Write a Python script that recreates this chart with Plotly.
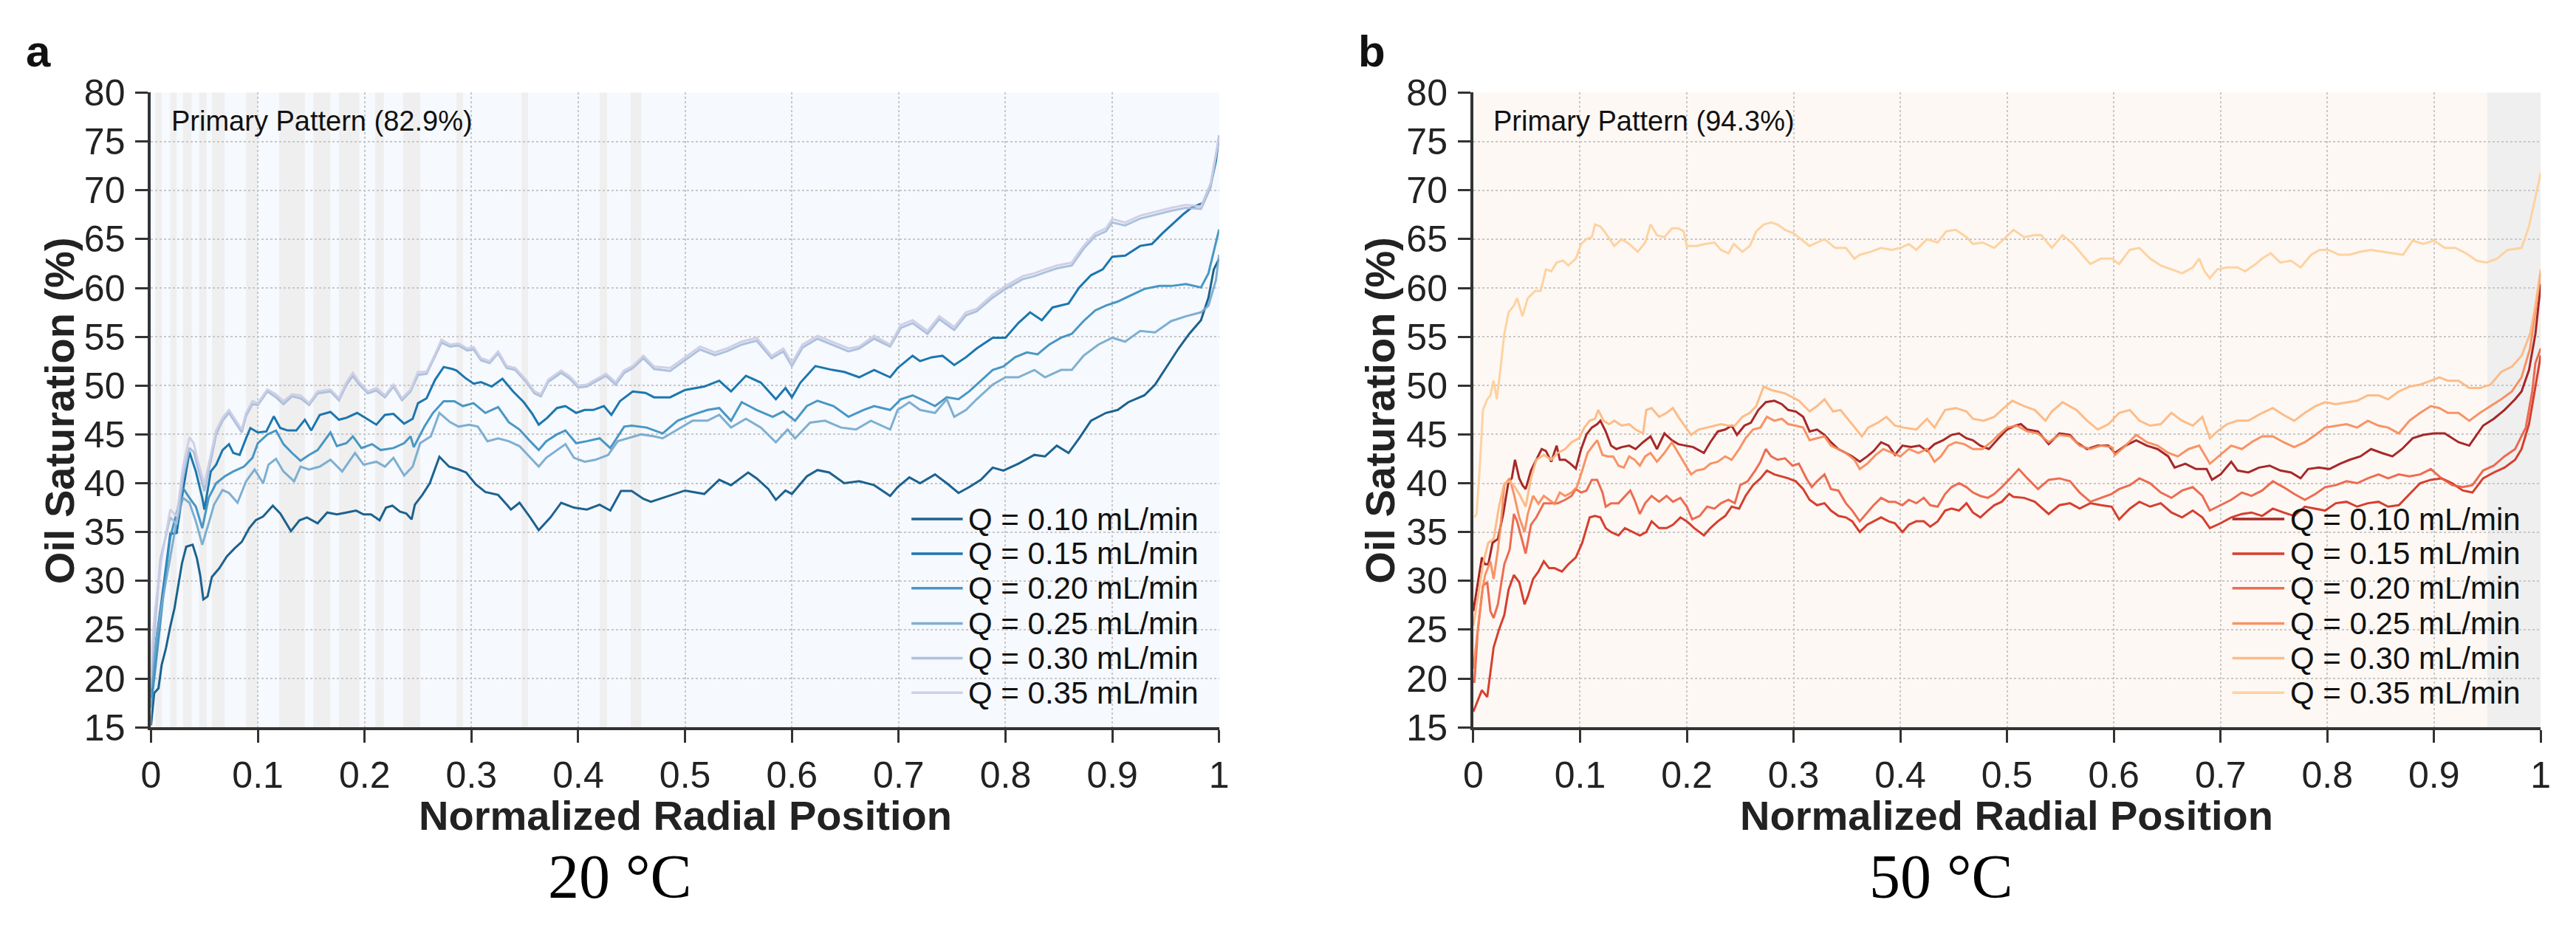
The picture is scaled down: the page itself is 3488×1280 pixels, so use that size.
import plotly.graph_objects as go

W, H = 3488, 1280

# ---------------- DATA ----------------
flow_labels = ["Q = 0.10 mL/min", "Q = 0.15 mL/min", "Q = 0.20 mL/min",
               "Q = 0.25 mL/min", "Q = 0.30 mL/min", "Q = 0.35 mL/min"]
x_ticks = [0, 0.1, 0.2, 0.3, 0.4, 0.5, 0.6, 0.7, 0.8, 0.9, 1]
x_tick_text = ["0", "0.1", "0.2", "0.3", "0.4", "0.5", "0.6", "0.7", "0.8", "0.9", "1"]
y_ticks = [15, 20, 25, 30, 35, 40, 45, 50, 55, 60, 65, 70, 75, 80]

panel_a_title = "20 °C"
panel_b_title = "50 °C"
panel_a_pattern = "Primary Pattern (82.9%)"
panel_b_pattern = "Primary Pattern (94.3%)"

# shaded (secondary-pattern) intervals of normalized radial position
a_band_start = [0.004, 0.018, 0.030, 0.045, 0.057, 0.089, 0.120, 0.152, 0.176, 0.210, 0.236, 0.286, 0.347, 0.420, 0.449]
a_band_end = [0.010, 0.024, 0.038, 0.052, 0.069, 0.100, 0.144, 0.168, 0.195, 0.218, 0.252, 0.292, 0.353, 0.427, 0.459]
b_band_start = [0.950]
b_band_end = [1.000]

# ---- 20 °C ----
A_Q010 = [(0, 15.2), (0.003, 18.5), (0.007, 19), (0.01, 21.4), (0.014, 23.1), (0.018, 25.3), (0.022, 27.2),
          (0.025, 29.2), (0.029, 31.8), (0.033, 33.5), (0.039, 33.7), (0.043, 32.3), (0.046, 30.6), (0.049, 28.1),
          (0.053, 28.4), (0.057, 30.4), (0.064, 31.3), (0.071, 32.5), (0.078, 33.3), (0.085, 34), (0.092, 35.4),
          (0.098, 36.2), (0.105, 36.6), (0.114, 37.7), (0.121, 36.9), (0.131, 35.1), (0.139, 36.2), (0.146, 36.5),
          (0.156, 35.9), (0.165, 37), (0.174, 36.8), (0.183, 37), (0.192, 37.2), (0.199, 36.8), (0.206, 36.8),
          (0.214, 36.2), (0.22, 37.5), (0.226, 37.7), (0.233, 37.1), (0.239, 36.9), (0.244, 36.3), (0.247, 37.8),
          (0.254, 38.8), (0.261, 40), (0.27, 42.7), (0.279, 41.7), (0.288, 41.4), (0.295, 41.1), (0.304, 39.9),
          (0.313, 39.1), (0.325, 38.8), (0.334, 37.7), (0.337, 37.3), (0.345, 38), (0.355, 36.5), (0.363, 35.2),
          (0.374, 36.5), (0.384, 38), (0.396, 37.5), (0.408, 37.3), (0.42, 37.8), (0.43, 37.2), (0.44, 39.2),
          (0.45, 39.2), (0.461, 38.4), (0.468, 38.1), (0.479, 38.5), (0.5, 39.25), (0.518, 38.9), (0.532, 40.35),
          (0.543, 39.8), (0.559, 41.1), (0.567, 40.5), (0.578, 39.4), (0.585, 38.3), (0.594, 39.25), (0.6, 38.9),
          (0.614, 40.7), (0.624, 41.35), (0.635, 41.1), (0.649, 40), (0.663, 40.2), (0.677, 39.8), (0.692, 38.7),
          (0.699, 39.6), (0.71, 40.6), (0.72, 40), (0.734, 40.9), (0.745, 40), (0.756, 39), (0.766, 39.6),
          (0.777, 40.35), (0.788, 41.6), (0.798, 41.3), (0.812, 42), (0.827, 42.9), (0.837, 42.75), (0.848, 43.85),
          (0.859, 43.1), (0.869, 44.6), (0.88, 46.4), (0.894, 47.2), (0.905, 47.5), (0.915, 48.3), (0.93, 49),
          (0.94, 50.1), (0.951, 51.95), (0.962, 53.8), (0.972, 55.3), (0.983, 56.7), (0.99, 59), (0.995, 61.9),
          (1.0, 63)]

A_Q015 = [(0, 18), (0.005, 24), (0.01, 28), (0.014, 31.5), (0.018, 34.8), (0.024, 34.9), (0.03, 39.3),
          (0.036, 43.2), (0.042, 41.2), (0.048, 38.5), (0.05, 37.3), (0.056, 41.2), (0.061, 41.9), (0.067, 43.4),
          (0.073, 44), (0.077, 43.1), (0.083, 42.9), (0.089, 44.6), (0.093, 45.65), (0.1, 45.2), (0.108, 45.3),
          (0.115, 46.85), (0.121, 45.65), (0.128, 45.4), (0.136, 45.4), (0.144, 46.5), (0.15, 45.4), (0.158, 47),
          (0.168, 47.3), (0.176, 46.5), (0.183, 46.7), (0.193, 47.2), (0.203, 46.5), (0.211, 46), (0.219, 47),
          (0.227, 47.1), (0.237, 46.1), (0.245, 46.6), (0.25, 48.2), (0.258, 48.7), (0.266, 50.6), (0.274, 51.9),
          (0.282, 51.7), (0.286, 51.55), (0.294, 50.8), (0.302, 50.2), (0.309, 50.35), (0.319, 49.9), (0.329, 50.7),
          (0.339, 49.4), (0.349, 48.3), (0.357, 47.1), (0.363, 46), (0.371, 46.7), (0.38, 47.7), (0.388, 47.9),
          (0.398, 47.2), (0.406, 47.5), (0.414, 47.5), (0.424, 47.9), (0.431, 47), (0.439, 48.4), (0.451, 49.4),
          (0.463, 49.25), (0.471, 48.8), (0.486, 48.8), (0.5, 49.55), (0.518, 49.9), (0.532, 50.5), (0.543, 49.4),
          (0.557, 51), (0.571, 50.3), (0.585, 48.6), (0.594, 49.75), (0.6, 48.8), (0.608, 50.3), (0.622, 52),
          (0.638, 51.6), (0.649, 51.4), (0.663, 50.85), (0.677, 51.6), (0.692, 50.85), (0.699, 51.8), (0.713, 53.05),
          (0.72, 52.5), (0.731, 52.9), (0.741, 53.05), (0.752, 52.1), (0.763, 52.9), (0.773, 53.8), (0.788, 54.9),
          (0.8, 54.9), (0.812, 56.4), (0.823, 57.5), (0.834, 56.7), (0.844, 58), (0.859, 58.4), (0.869, 60.05),
          (0.88, 61.3), (0.891, 61.9), (0.9, 63.2), (0.912, 63.3), (0.926, 64.3), (0.937, 64.5), (0.947, 65.6),
          (0.958, 66.7), (0.967, 67.6), (0.975, 68.3), (0.985, 68.7), (0.992, 70.5), (0.997, 73), (1.0, 75.6)]

A_Q020 = [(0, 17), (0.005, 22), (0.01, 27), (0.014, 31), (0.018, 34.45), (0.024, 36.9), (0.03, 39.5),
          (0.036, 38.5), (0.042, 37.6), (0.048, 35.4), (0.054, 38.5), (0.061, 40), (0.069, 40.7), (0.077, 41.2),
          (0.087, 41.7), (0.095, 42.6), (0.1, 44.1), (0.109, 45), (0.117, 45.4), (0.124, 44), (0.132, 43.1),
          (0.14, 42.3), (0.148, 42.9), (0.156, 43.4), (0.168, 45.2), (0.174, 43.8), (0.183, 44.1), (0.189, 44.8),
          (0.197, 43.6), (0.207, 44), (0.215, 43.4), (0.227, 43.6), (0.237, 44.1), (0.243, 44.8), (0.246, 43.7),
          (0.256, 45.8), (0.264, 47.2), (0.274, 48.4), (0.284, 48.4), (0.292, 47.9), (0.302, 48.2), (0.313, 47.2),
          (0.325, 47.8), (0.335, 46.25), (0.345, 45.5), (0.355, 44.3), (0.363, 43.4), (0.37, 44.3), (0.38, 45),
          (0.388, 45.4), (0.398, 44.1), (0.408, 44.3), (0.42, 44.6), (0.43, 43.6), (0.443, 45.8), (0.45, 45.9),
          (0.464, 45.7), (0.479, 45.1), (0.493, 46.4), (0.507, 47), (0.521, 47.5), (0.532, 47.7), (0.543, 46.4),
          (0.553, 48.3), (0.567, 47.5), (0.582, 46.8), (0.592, 47.35), (0.603, 46.4), (0.614, 47.9), (0.624, 48.45),
          (0.639, 47.9), (0.653, 46.8), (0.667, 47.5), (0.677, 47.9), (0.692, 47.5), (0.702, 48.6), (0.713, 49),
          (0.724, 48.45), (0.734, 47.9), (0.745, 48.8), (0.756, 48.6), (0.766, 49.4), (0.777, 50.5), (0.788, 51.6),
          (0.798, 51.95), (0.809, 52.9), (0.82, 53.4), (0.83, 53.2), (0.841, 54.2), (0.852, 54.9), (0.862, 55.3),
          (0.873, 56.6), (0.884, 57.7), (0.894, 58.2), (0.905, 58.6), (0.915, 59.1), (0.93, 59.9), (0.944, 60.2),
          (0.955, 60.2), (0.969, 60.4), (0.983, 60.05), (0.99, 61.5), (1.0, 66)]

A_Q025 = [(0, 19), (0.005, 24), (0.01, 27.5), (0.014, 30), (0.018, 32.3), (0.024, 36.1), (0.03, 38.5),
          (0.036, 38), (0.042, 36.1), (0.048, 33.7), (0.054, 35.9), (0.059, 37.8), (0.067, 39.3), (0.073, 39),
          (0.081, 38), (0.089, 40.2), (0.097, 41.4), (0.105, 40), (0.11, 41.9), (0.117, 42.5), (0.124, 41.2),
          (0.134, 40.2), (0.14, 41.7), (0.148, 41.4), (0.158, 41.7), (0.168, 42.4), (0.179, 41.2), (0.191, 43.1),
          (0.199, 41.9), (0.211, 42.2), (0.219, 41.7), (0.227, 42.6), (0.237, 40.8), (0.245, 41.7), (0.252, 44.1),
          (0.262, 44.8), (0.27, 47.2), (0.28, 46.25), (0.288, 45.8), (0.298, 46), (0.306, 45.8), (0.315, 44.3),
          (0.325, 44.6), (0.335, 44.3), (0.345, 43.8), (0.355, 42.6), (0.363, 41.7), (0.37, 42.6), (0.38, 43.4),
          (0.388, 44), (0.396, 42.6), (0.406, 42.2), (0.416, 42.4), (0.428, 42.9), (0.437, 44.3), (0.447, 44.6),
          (0.459, 45), (0.471, 44.8), (0.479, 44.6), (0.493, 45.5), (0.507, 46.4), (0.521, 46.4), (0.532, 47),
          (0.543, 45.7), (0.557, 46.6), (0.571, 45.7), (0.585, 44.2), (0.596, 45.5), (0.603, 44.6), (0.617, 46.2),
          (0.631, 46.4), (0.646, 45.7), (0.66, 45.5), (0.674, 46.4), (0.692, 45.5), (0.699, 47.5), (0.71, 48.3),
          (0.72, 47.5), (0.734, 47.2), (0.745, 48.6), (0.752, 46.8), (0.763, 47.5), (0.773, 48.6), (0.788, 50.1),
          (0.8, 50.85), (0.812, 50.85), (0.827, 51.6), (0.837, 50.85), (0.852, 51.6), (0.862, 51.6), (0.873, 53.05),
          (0.887, 54.2), (0.9, 54.9), (0.912, 54.5), (0.926, 55.6), (0.94, 55.45), (0.955, 56.6), (0.969, 57.1),
          (0.983, 57.5), (0.99, 58.2), (0.997, 60.8), (1.0, 63.4)]

A_Q030 = [(0, 20), (0.004, 26), (0.009, 32.3), (0.018, 36.5), (0.024, 35.8), (0.03, 40.6), (0.036, 43.6),
          (0.04, 43.2), (0.044, 41.5), (0.05, 39.2), (0.056, 42.3), (0.061, 45), (0.067, 46.4), (0.073, 47.2),
          (0.079, 46.2), (0.085, 45.2), (0.089, 46.9), (0.095, 48.1), (0.1, 48), (0.109, 49.4), (0.117, 48.8),
          (0.124, 48.1), (0.132, 48.9), (0.14, 48.7), (0.148, 48), (0.156, 49.2), (0.168, 49.4), (0.176, 48.5),
          (0.183, 50.1), (0.189, 51), (0.195, 50.1), (0.203, 49.2), (0.211, 49.5), (0.219, 48.8), (0.227, 49.9),
          (0.235, 48.5), (0.243, 49.4), (0.25, 51.1), (0.258, 51.2), (0.266, 53), (0.272, 54.4), (0.28, 54),
          (0.288, 54.1), (0.296, 53.6), (0.302, 53.7), (0.309, 52.6), (0.317, 52.3), (0.325, 53.3), (0.333, 51.8),
          (0.341, 51.6), (0.351, 50.4), (0.359, 49.2), (0.365, 48.9), (0.372, 50.4), (0.384, 51.3), (0.392, 50.7),
          (0.4, 49.8), (0.408, 49.9), (0.416, 50.4), (0.426, 51), (0.435, 50.1), (0.443, 51.3), (0.451, 51.8),
          (0.461, 52.8), (0.471, 51.7), (0.486, 51.5), (0.5, 52.6), (0.514, 53.7), (0.528, 53.1), (0.539, 53.5),
          (0.553, 54.2), (0.567, 54.6), (0.581, 52.8), (0.592, 53.5), (0.6, 52), (0.61, 53.9), (0.624, 54.8),
          (0.638, 54.2), (0.653, 53.5), (0.663, 53.8), (0.677, 54.8), (0.692, 54), (0.702, 55.9), (0.713, 56.4),
          (0.727, 55.3), (0.738, 56.8), (0.752, 55.7), (0.763, 57.2), (0.773, 57.6), (0.788, 59), (0.8, 59.9),
          (0.816, 60.9), (0.827, 61.2), (0.837, 61.6), (0.848, 62), (0.862, 62.3), (0.873, 64), (0.884, 65.3),
          (0.894, 65.8), (0.9, 66.7), (0.912, 66.4), (0.926, 67.1), (0.94, 67.5), (0.955, 67.9), (0.969, 68.2),
          (0.983, 68.1), (0.992, 70.3), (1.0, 75.4)]

A_Q035 = [(0, 22), (0.004, 27.2), (0.01, 32.3), (0.018, 37.3), (0.024, 36.6), (0.03, 41.7), (0.036, 44.7),
          (0.04, 44.1), (0.044, 42.2), (0.05, 39.9), (0.056, 42.9), (0.061, 45.4), (0.067, 46.7), (0.073, 47.5),
          (0.079, 46.5), (0.085, 45.5), (0.089, 47.2), (0.095, 48.4), (0.1, 48.2), (0.109, 49.6), (0.117, 49.1),
          (0.124, 48.4), (0.132, 49.1), (0.14, 49), (0.148, 48.2), (0.156, 49.4), (0.168, 49.6), (0.176, 48.7),
          (0.183, 50.35), (0.189, 51.3), (0.195, 50.35), (0.203, 49.4), (0.211, 49.75), (0.219, 49), (0.227, 50.1),
          (0.235, 48.7), (0.243, 49.6), (0.25, 51.4), (0.258, 51.4), (0.266, 53.2), (0.272, 54.7), (0.28, 54.2),
          (0.288, 54.3), (0.296, 53.8), (0.302, 53.95), (0.309, 52.8), (0.317, 52.5), (0.325, 53.5), (0.333, 52),
          (0.341, 51.8), (0.351, 50.6), (0.359, 49.4), (0.365, 49.1), (0.372, 50.6), (0.384, 51.55), (0.392, 50.95),
          (0.4, 50), (0.408, 50.1), (0.416, 50.6), (0.426, 51.2), (0.435, 50.35), (0.443, 51.55), (0.451, 52),
          (0.461, 53.05), (0.471, 51.95), (0.486, 51.8), (0.5, 52.9), (0.514, 54), (0.528, 53.4), (0.539, 53.8),
          (0.553, 54.5), (0.567, 54.9), (0.581, 53.05), (0.592, 53.8), (0.6, 52.3), (0.61, 54.2), (0.624, 55.1),
          (0.638, 54.5), (0.653, 53.8), (0.663, 54), (0.677, 55.1), (0.692, 54.2), (0.702, 56.2), (0.713, 56.7),
          (0.727, 55.6), (0.738, 57.1), (0.752, 56), (0.763, 57.5), (0.773, 57.85), (0.788, 59.3), (0.8, 60.2),
          (0.816, 61.2), (0.827, 61.5), (0.837, 61.9), (0.848, 62.3), (0.862, 62.6), (0.873, 64.3), (0.884, 65.6),
          (0.894, 66.1), (0.9, 67.05), (0.912, 66.7), (0.926, 67.4), (0.94, 67.8), (0.955, 68.2), (0.969, 68.5),
          (0.983, 68.35), (0.992, 70.7), (1.0, 75.6)]

# ---- 50 °C ----
B_Q010 = [(0, 26.9), (0.004, 29.5), (0.008, 32.4), (0.011, 31.7), (0.014, 31.7), (0.018, 33.9), (0.023, 34.3),
          (0.028, 36.85), (0.033, 40.2), (0.036, 40.5), (0.039, 42.4), (0.043, 40.5), (0.046, 39.8), (0.049, 39.4),
          (0.054, 41.3), (0.059, 42.4), (0.064, 43.5), (0.068, 43.3), (0.073, 42.2), (0.078, 43.85), (0.081, 42.4),
          (0.086, 42.4), (0.091, 42), (0.096, 41.5), (0.101, 43.5), (0.106, 45), (0.111, 45.7), (0.116, 46.05),
          (0.119, 46.4), (0.124, 45.3), (0.129, 43.85), (0.134, 43.5), (0.139, 43.7), (0.146, 43.85), (0.152, 43.5),
          (0.159, 44.2), (0.166, 44.8), (0.172, 43.5), (0.179, 45.1), (0.186, 44.4), (0.192, 44), (0.199, 43.85),
          (0.206, 43.7), (0.216, 43.1), (0.222, 44.2), (0.229, 45.3), (0.236, 45.5), (0.242, 45.9), (0.247, 44.95),
          (0.254, 45.9), (0.26, 46.2), (0.267, 47.5), (0.274, 48.3), (0.282, 48.45), (0.289, 48.1), (0.295, 47.5),
          (0.302, 47.35), (0.309, 46.8), (0.315, 45.3), (0.322, 45.5), (0.329, 44.95), (0.335, 44.2), (0.342, 43.5),
          (0.349, 43.1), (0.355, 42.75), (0.362, 42.2), (0.369, 42.75), (0.375, 43.3), (0.382, 44.2), (0.389, 43.85),
          (0.395, 42.9), (0.402, 43.85), (0.41, 43.7), (0.418, 43.85), (0.425, 43.3), (0.432, 44), (0.44, 44.4),
          (0.448, 44.95), (0.455, 45.1), (0.462, 44.6), (0.468, 44.4), (0.475, 43.85), (0.483, 43.5), (0.492, 44.6),
          (0.5, 45.5), (0.508, 45.9), (0.513, 46.05), (0.519, 45.5), (0.529, 45.3), (0.539, 44), (0.549, 45.1),
          (0.559, 44.95), (0.565, 44.2), (0.575, 43.5), (0.585, 43.85), (0.595, 43.85), (0.601, 43.1), (0.611, 43.85),
          (0.621, 44.4), (0.631, 43.85), (0.641, 43.5), (0.651, 42.75), (0.657, 41.6), (0.667, 42), (0.677, 41.45),
          (0.687, 41.45), (0.692, 40.35), (0.7, 40.9), (0.71, 42.2), (0.716, 41.3), (0.726, 41.1), (0.736, 41.6),
          (0.746, 41.8), (0.756, 41.3), (0.766, 41.1), (0.775, 40.5), (0.782, 41.45), (0.792, 41.6), (0.802, 41.45),
          (0.812, 42), (0.821, 42.4), (0.831, 42.75), (0.841, 43.5), (0.851, 43.1), (0.861, 42.75), (0.87, 43.5),
          (0.88, 44.6), (0.89, 44.95), (0.9, 45.1), (0.91, 45.1), (0.917, 44.6), (0.923, 44.2), (0.933, 43.85),
          (0.94, 44.95), (0.946, 45.9), (0.956, 46.6), (0.966, 47.5), (0.976, 48.6), (0.982, 49.4), (0.989, 51.6),
          (0.995, 55.3), (1.0, 60.4)]

B_Q015 = [(0, 16.6), (0.004, 17.7), (0.008, 18.8), (0.013, 18.1), (0.016, 20.65), (0.019, 23.2), (0.024, 25),
          (0.029, 26.5), (0.033, 29.1), (0.038, 30.6), (0.043, 29.85), (0.048, 27.6), (0.051, 28.4), (0.056, 30.2),
          (0.061, 30.95), (0.066, 32), (0.071, 31.3), (0.076, 31.3), (0.083, 30.95), (0.089, 31.7), (0.096, 32.4),
          (0.102, 33.9), (0.109, 36.5), (0.114, 36.65), (0.119, 36.5), (0.124, 35.4), (0.129, 35), (0.136, 34.65),
          (0.142, 35.4), (0.149, 35), (0.156, 34.65), (0.162, 35), (0.167, 36.1), (0.174, 35.4), (0.181, 35.4),
          (0.187, 35.75), (0.194, 36.5), (0.2, 36.1), (0.207, 35.4), (0.216, 34.65), (0.222, 35.4), (0.229, 36.1),
          (0.236, 36.65), (0.242, 37.6), (0.249, 37.4), (0.255, 38.7), (0.262, 39.8), (0.269, 40.5), (0.275, 41.3),
          (0.282, 40.9), (0.289, 40.7), (0.295, 40.5), (0.302, 40.2), (0.309, 39.4), (0.315, 38.3), (0.322, 37.75),
          (0.329, 37.95), (0.335, 37.2), (0.342, 36.65), (0.349, 36.5), (0.355, 36.1), (0.362, 35), (0.369, 35.75),
          (0.375, 36.1), (0.382, 36.5), (0.389, 36.1), (0.395, 35.9), (0.402, 35), (0.408, 35.75), (0.415, 36.1),
          (0.422, 36.1), (0.428, 35.55), (0.435, 36.1), (0.442, 37.2), (0.448, 37.4), (0.455, 37.2), (0.462, 37.95),
          (0.468, 37), (0.475, 36.5), (0.482, 37.2), (0.488, 37.75), (0.495, 38.1), (0.502, 38.9), (0.506, 38.6),
          (0.516, 38.5), (0.526, 38.1), (0.539, 36.85), (0.549, 37.75), (0.559, 37.95), (0.568, 37.4), (0.578, 37.95),
          (0.588, 37.75), (0.598, 37.6), (0.605, 36.3), (0.615, 37.4), (0.624, 38.1), (0.634, 37.6), (0.644, 37.95),
          (0.654, 37), (0.664, 36.5), (0.674, 37.2), (0.683, 36.5), (0.69, 35.4), (0.7, 35.9), (0.71, 36.5),
          (0.72, 36.85), (0.729, 37), (0.739, 36.65), (0.749, 37.4), (0.759, 37), (0.769, 36.65), (0.779, 37.6),
          (0.789, 37.4), (0.798, 37.2), (0.808, 37.95), (0.818, 38.1), (0.828, 37.6), (0.838, 37.95), (0.848, 38.1),
          (0.857, 37.6), (0.867, 37.75), (0.877, 38.9), (0.887, 40), (0.897, 40.35), (0.907, 40.5), (0.917, 40),
          (0.927, 39.25), (0.936, 39.05), (0.946, 40.5), (0.956, 41.1), (0.966, 41.6), (0.976, 42.4), (0.982, 43.5),
          (0.989, 46.05), (0.994, 49.4), (1.0, 53.1)]

B_Q020 = [(0.001, 19.55), (0.004, 24.7), (0.009, 29.5), (0.013, 29.85), (0.016, 26.9), (0.019, 26.2), (0.023, 27.6),
          (0.029, 31.7), (0.034, 33.2), (0.038, 36.85), (0.041, 36.1), (0.046, 33.9), (0.049, 32.8), (0.054, 35.75),
          (0.059, 36.5), (0.066, 37.95), (0.072, 37.95), (0.079, 37.95), (0.086, 38.3), (0.092, 38.7), (0.096, 39.4),
          (0.101, 39.05), (0.106, 39.25), (0.111, 40.35), (0.116, 40.35), (0.121, 39.05), (0.124, 37.6), (0.129, 37.95),
          (0.136, 37.95), (0.142, 38.7), (0.147, 39.25), (0.151, 38.3), (0.156, 36.85), (0.161, 37.95), (0.167, 38.7),
          (0.174, 38.1), (0.181, 38.7), (0.187, 38.1), (0.194, 38.5), (0.2, 37.6), (0.205, 36.3), (0.212, 36.65),
          (0.219, 37.6), (0.226, 37.4), (0.232, 37.95), (0.239, 38.3), (0.245, 37.95), (0.25, 39.8), (0.257, 40.2),
          (0.264, 41.3), (0.269, 42.2), (0.274, 43.5), (0.279, 42.75), (0.285, 42.4), (0.292, 42.55), (0.299, 41.8),
          (0.305, 42), (0.312, 40.5), (0.317, 39.6), (0.322, 40.2), (0.329, 40.9), (0.335, 39.4), (0.342, 39.25),
          (0.349, 37.95), (0.355, 37.2), (0.362, 36.1), (0.369, 37), (0.375, 37.75), (0.382, 38.5), (0.389, 38.1),
          (0.395, 38.1), (0.402, 37.75), (0.408, 38.3), (0.415, 37.95), (0.422, 38.5), (0.428, 37.75), (0.435, 37.6),
          (0.442, 38.9), (0.448, 39.6), (0.455, 40), (0.462, 39.6), (0.468, 39.05), (0.475, 38.7), (0.482, 38.5),
          (0.488, 38.9), (0.495, 39.6), (0.503, 40.5), (0.511, 41.45), (0.519, 40.5), (0.529, 39.4), (0.539, 40.35),
          (0.549, 40.5), (0.559, 40.2), (0.568, 39.05), (0.578, 38.1), (0.588, 38.5), (0.598, 38.9), (0.605, 39.4),
          (0.615, 39.8), (0.624, 40.5), (0.634, 40), (0.644, 39.05), (0.654, 38.5), (0.664, 39.25), (0.674, 39.6),
          (0.683, 38.7), (0.69, 37.2), (0.7, 37.75), (0.71, 38.3), (0.72, 39.05), (0.729, 38.7), (0.739, 39.25),
          (0.749, 40.2), (0.759, 39.6), (0.769, 38.9), (0.779, 38.3), (0.789, 38.9), (0.798, 39.6), (0.808, 39.8),
          (0.818, 40.2), (0.828, 40), (0.838, 40.5), (0.848, 40.9), (0.857, 40.5), (0.867, 40.9), (0.877, 40.7),
          (0.887, 40.9), (0.897, 41.45), (0.907, 40.5), (0.917, 39.8), (0.927, 39.6), (0.936, 39.8), (0.946, 41.3),
          (0.956, 41.8), (0.966, 42.75), (0.976, 43.5), (0.986, 45.7), (0.992, 49.4), (0.995, 52.3), (1.0, 53.8)]

B_Q025 = [(0, 21), (0.004, 25), (0.008, 28.7), (0.011, 30.6), (0.016, 32), (0.019, 30.2), (0.023, 33.2),
          (0.026, 36.1), (0.029, 39.8), (0.034, 40.5), (0.038, 38.9), (0.043, 36.5), (0.048, 35), (0.051, 36.85),
          (0.056, 38.7), (0.061, 37.9), (0.066, 38.7), (0.071, 38.3), (0.076, 37.9), (0.081, 39.05), (0.086, 38.7),
          (0.092, 39.05), (0.097, 39.6), (0.102, 41.3), (0.107, 43.1), (0.112, 43.85), (0.116, 44.4), (0.121, 42.9),
          (0.126, 42.75), (0.131, 42.75), (0.136, 41.8), (0.141, 41.6), (0.146, 42.75), (0.151, 42.4), (0.156, 41.8),
          (0.161, 42.75), (0.166, 43.1), (0.172, 42.2), (0.179, 43.1), (0.186, 44.2), (0.192, 43.1), (0.199, 41.8),
          (0.204, 40.9), (0.209, 41.3), (0.216, 41.45), (0.222, 42), (0.229, 42.2), (0.236, 42.75), (0.242, 42.4),
          (0.249, 43.5), (0.255, 44.6), (0.262, 45.5), (0.269, 45.7), (0.275, 46.8), (0.282, 46.4), (0.289, 46.6),
          (0.295, 46.05), (0.302, 45.9), (0.309, 45.7), (0.315, 44.4), (0.322, 44.6), (0.329, 44.8), (0.335, 43.85),
          (0.342, 43.5), (0.349, 43.1), (0.357, 42.4), (0.362, 41.45), (0.369, 42), (0.377, 42.9), (0.384, 43.5),
          (0.392, 43.1), (0.4, 42.75), (0.408, 43.5), (0.417, 43.1), (0.425, 43.5), (0.432, 42.2), (0.438, 42.75),
          (0.445, 43.85), (0.452, 44.2), (0.46, 44), (0.468, 43.5), (0.477, 43.5), (0.485, 44.2), (0.492, 44.95),
          (0.5, 45.7), (0.509, 45.9), (0.519, 45.3), (0.529, 45.1), (0.539, 44.2), (0.549, 44.95), (0.559, 44.8),
          (0.568, 43.85), (0.578, 43.5), (0.588, 43.85), (0.598, 43.7), (0.601, 42.9), (0.611, 43.85), (0.621, 44.95),
          (0.631, 44.2), (0.641, 43.85), (0.651, 43.1), (0.66, 42.75), (0.67, 43.5), (0.68, 43.85), (0.69, 42),
          (0.7, 42.9), (0.71, 43.85), (0.72, 43.5), (0.729, 44.2), (0.739, 44.8), (0.749, 44.8), (0.759, 44.2),
          (0.769, 43.7), (0.779, 44.2), (0.789, 44.95), (0.798, 45.7), (0.808, 45.9), (0.818, 46.05), (0.828, 45.7),
          (0.838, 46.4), (0.848, 45.9), (0.857, 45.7), (0.867, 45.1), (0.877, 46.4), (0.887, 47.2), (0.897, 47.9),
          (0.905, 47.7), (0.913, 47.2), (0.923, 47.2), (0.933, 46.4), (0.943, 47.2), (0.953, 47.9), (0.963, 48.6),
          (0.973, 49.4), (0.982, 50.85), (0.99, 53.8), (0.995, 57.5), (1.0, 61.5)]

B_Q030 = [(0, 25.4), (0.009, 31.7), (0.014, 33.9), (0.019, 34.3), (0.024, 37.6), (0.029, 40), (0.034, 40.2),
          (0.039, 39.6), (0.044, 38.7), (0.049, 37.6), (0.054, 40.5), (0.059, 42.4), (0.066, 42.9), (0.073, 42.4),
          (0.079, 43.1), (0.086, 43.5), (0.092, 44.2), (0.099, 44.6), (0.104, 45.7), (0.109, 46.4), (0.114, 46.6),
          (0.117, 47.5), (0.122, 46.4), (0.127, 46.05), (0.132, 46.4), (0.139, 45.9), (0.146, 46.05), (0.152, 45.5),
          (0.159, 45.1), (0.162, 47.5), (0.167, 47.7), (0.174, 46.8), (0.181, 47.2), (0.187, 47.7), (0.192, 46.8),
          (0.199, 45.7), (0.204, 44.95), (0.211, 45.5), (0.219, 45.7), (0.226, 45.9), (0.232, 46.05), (0.239, 45.9),
          (0.245, 45.9), (0.252, 46.8), (0.259, 47.2), (0.265, 47.9), (0.272, 49.9), (0.279, 49.55), (0.285, 49.4),
          (0.292, 49.2), (0.299, 48.8), (0.305, 48.45), (0.315, 47.35), (0.322, 47.9), (0.329, 48.6), (0.337, 47.35),
          (0.344, 47.5), (0.352, 46.4), (0.359, 45.5), (0.364, 44.8), (0.37, 45.7), (0.379, 46.2), (0.387, 46.8),
          (0.395, 45.9), (0.403, 45.7), (0.415, 45.5), (0.425, 46.6), (0.432, 45.7), (0.442, 47.5), (0.452, 47.7),
          (0.462, 47.35), (0.468, 46.6), (0.478, 46.4), (0.488, 46.8), (0.497, 47.7), (0.505, 48.45), (0.516, 47.9),
          (0.526, 47.5), (0.536, 46.4), (0.542, 47.35), (0.552, 48.3), (0.565, 47.5), (0.575, 46.4), (0.585, 45.5),
          (0.595, 46.05), (0.605, 47.2), (0.615, 47.5), (0.624, 46.4), (0.634, 45.9), (0.644, 46.05), (0.654, 47.2),
          (0.664, 46.4), (0.674, 45.9), (0.683, 46.8), (0.69, 44.6), (0.697, 45.3), (0.706, 46.05), (0.716, 46.4),
          (0.726, 46.4), (0.739, 47.2), (0.749, 47.7), (0.759, 47), (0.769, 46.4), (0.779, 47.2), (0.789, 47.9),
          (0.798, 48.3), (0.808, 48.1), (0.818, 48.3), (0.828, 48.45), (0.838, 49), (0.848, 49), (0.857, 48.6),
          (0.867, 49.4), (0.877, 49.9), (0.887, 50.1), (0.897, 50.5), (0.905, 50.85), (0.913, 50.5), (0.923, 50.5),
          (0.933, 49.75), (0.943, 49.75), (0.953, 50.1), (0.963, 51.4), (0.973, 51.95), (0.982, 53.05), (0.99, 55.3),
          (0.995, 58.2), (1.0, 61.9)]

B_Q035 = [(0.001, 36.5), (0.003, 36.85), (0.006, 41.6), (0.009, 47.5), (0.013, 48.6), (0.016, 49), (0.019, 50.5),
          (0.022, 48.6), (0.026, 52.3), (0.029, 55.3), (0.033, 57.5), (0.038, 58.2), (0.041, 58.95), (0.046, 57.1),
          (0.051, 58.95), (0.058, 59.7), (0.063, 59.7), (0.068, 61.9), (0.073, 61.7), (0.078, 62.6), (0.084, 62.8),
          (0.089, 62.3), (0.096, 63), (0.101, 64.5), (0.106, 65), (0.111, 65.2), (0.114, 66.5), (0.119, 66.3),
          (0.124, 65.6), (0.132, 64.3), (0.139, 65), (0.146, 64.5), (0.154, 63.7), (0.161, 64.65), (0.166, 66.5),
          (0.172, 65.4), (0.179, 65.2), (0.186, 66.1), (0.192, 66.1), (0.197, 65.8), (0.2, 64.3), (0.209, 64.3),
          (0.217, 64.5), (0.226, 64.65), (0.232, 63.9), (0.239, 63.55), (0.244, 64.5), (0.252, 63.7), (0.259, 64.3),
          (0.265, 65.8), (0.272, 66.5), (0.279, 66.7), (0.285, 66.5), (0.292, 65.95), (0.3, 65.6), (0.309, 64.8),
          (0.315, 64.3), (0.322, 64.65), (0.329, 65), (0.339, 64.1), (0.349, 64.1), (0.357, 63), (0.362, 63.4),
          (0.372, 63.7), (0.382, 64.1), (0.392, 63.9), (0.4, 64.1), (0.408, 64.5), (0.415, 63.9), (0.425, 65),
          (0.435, 64.65), (0.443, 65.8), (0.452, 65.95), (0.462, 65.2), (0.468, 64.5), (0.477, 64.65), (0.488, 64.1),
          (0.498, 65.1), (0.506, 65.95), (0.516, 65.2), (0.526, 65.4), (0.532, 65.4), (0.542, 64.1), (0.552, 65.4),
          (0.562, 64.5), (0.572, 63.2), (0.578, 62.45), (0.588, 63), (0.598, 63), (0.605, 62.45), (0.615, 63.9),
          (0.624, 64.1), (0.634, 63), (0.644, 62.3), (0.654, 61.9), (0.664, 61.5), (0.674, 62.1), (0.68, 63),
          (0.685, 61.7), (0.69, 61), (0.697, 61.9), (0.706, 62.1), (0.716, 62.1), (0.723, 61.7), (0.733, 62.45),
          (0.739, 63), (0.747, 63.55), (0.756, 62.6), (0.766, 62.8), (0.775, 62.1), (0.785, 63.4), (0.793, 63.9),
          (0.801, 63.9), (0.811, 63.4), (0.821, 63.4), (0.831, 63.7), (0.841, 63.9), (0.851, 63.7), (0.861, 63.55),
          (0.871, 63.4), (0.88, 64.85), (0.89, 64.5), (0.9, 64.85), (0.91, 64.1), (0.92, 64.1), (0.93, 63.55),
          (0.94, 62.8), (0.949, 62.6), (0.959, 63), (0.969, 63.9), (0.982, 64.1), (0.989, 66.3), (0.995, 69.3),
          (1.0, 71.8)]

A_SERIES = [A_Q010, A_Q015, A_Q020, A_Q025, A_Q030, A_Q035]
B_SERIES = [B_Q010, B_Q015, B_Q020, B_Q025, B_Q030, B_Q035]

# ---------------- STYLE ----------------
A_COLORS = ["#0b5687", "#0a6ca8", "#3a8fc1", "#74a9cf", "#a6bddb", "#cccde6"]
B_COLORS = ["#a01818", "#d3301f", "#ec6145", "#f98a58", "#fdb77f", "#fdd09b"]
A_BG = "#f6f9fd"
B_BG = "#fdf8f4"
BAND = "#efefef"
FONT = "Liberation Sans"
SERIF = "Liberation Serif"
AX = "#333333"
TXT = "#222222"


def fx(px):
    return px / W


def fy(py):
    return 1 - py / H


fig = go.Figure()

for ax_id, series, colors in (("", A_SERIES, A_COLORS), ("2", B_SERIES, B_COLORS)):
    for lab, pts, col in zip(flow_labels, series, colors):
        xs = [p[0] for p in pts]
        ys = [p[1] for p in pts]
        fig.add_trace(go.Scatter(x=xs, y=ys, mode="lines", name=lab, showlegend=False,
                                 line=dict(color=col, width=3), opacity=0.92,
                                 xaxis="x" + ax_id, yaxis="y" + ax_id))

axis_common = dict(showline=True, linecolor=AX, linewidth=4, ticks="outside", ticklen=17,
                   tickwidth=3, tickcolor=AX, showgrid=True, gridcolor="#c8c8c8", griddash="dot",
                   gridwidth=2, zeroline=False, tickfont=dict(family=FONT, size=50, color=TXT),
                   mirror=False)

y_dom = [fy(1002), fy(103)]
fig.update_layout(
    width=W, height=H, margin=dict(l=0, r=0, t=0, b=0),
    paper_bgcolor="white", plot_bgcolor="rgba(0,0,0,0)",
    showlegend=False,
    xaxis=dict(domain=[fx(192), fx(1650)], range=[0, 1], tickvals=x_ticks, ticktext=x_tick_text,
               anchor="y", ticklabelstandoff=1, **axis_common),
    yaxis=dict(domain=y_dom, range=[15, 80], tickvals=y_ticks, anchor="x", ticklabelstandoff=4,
               **axis_common),
    xaxis2=dict(domain=[fx(1997), fx(3454)], range=[0, 1], tickvals=x_ticks, ticktext=x_tick_text,
                anchor="y2", ticklabelstandoff=1, **axis_common),
    yaxis2=dict(domain=y_dom, range=[15, 80], tickvals=y_ticks, anchor="x2", ticklabelstandoff=4,
                **axis_common),
)

shapes = []
for ax_id, bg, bs, be in (("", A_BG, a_band_start, a_band_end), ("2", B_BG, b_band_start, b_band_end)):
    shapes.append(dict(type="rect", xref="x%s domain" % ax_id, yref="y%s domain" % ax_id,
                       x0=0, x1=1, y0=0, y1=1, fillcolor=bg, line=dict(width=0), layer="below"))
    for s, e in zip(bs, be):
        shapes.append(dict(type="rect", xref="x" + ax_id, yref="y%s domain" % ax_id,
                           x0=s, x1=e, y0=0, y1=1, fillcolor=BAND, line=dict(width=0), layer="below"))

annotations = []
legend_rows = [707, 756, 805, 855, 904, 953]
for (line_x0, line_x1, text_x, colors) in ((1230, 1300, 1305, A_COLORS), (3033, 3104, 3110, B_COLORS)):
    for lab, col, ry in zip(flow_labels, colors, legend_rows):
        shapes.append(dict(type="line", xref="paper", yref="paper", x0=fx(line_x0), x1=fx(line_x1),
                           y0=fy(ry), y1=fy(ry), line=dict(color=col, width=3.5), opacity=0.92))
        annotations.append(dict(text=lab, xref="paper", yref="paper", x=fx(text_x), y=fy(ry),
                                xanchor="left", yanchor="middle", showarrow=False,
                                font=dict(family=FONT, size=42, color="#111111")))

# axis titles, panel letters, pattern notes, temperature captions
for cx, yx, letter, lx, pat, px_, cap, capx in ((921, 67, "a", 19, panel_a_pattern, 218, panel_a_title, 832),
                                               (2725, 1870, "b", 1838, panel_b_pattern, 2022, panel_b_title, 2636)):
    annotations.append(dict(text="Normalized Radial Position", xref="paper", yref="paper",
                            x=fx(cx), y=fy(1127), xanchor="center", yanchor="middle", showarrow=False,
                            font=dict(family=FONT, size=56, color=TXT, weight="bold")))
    annotations.append(dict(text="Oil Saturation (%)", xref="paper", yref="paper", textangle=-90,
                            x=fx(yx), y=fy(553), xanchor="center", yanchor="middle", showarrow=False,
                            font=dict(family=FONT, size=56, color=TXT, weight="bold")))
    annotations.append(dict(text=letter, xref="paper", yref="paper", x=fx(lx), y=fy(44),
                            xanchor="left", yanchor="middle", showarrow=False,
                            font=dict(family=FONT, size=60, color="#111111", weight="bold")))
    annotations.append(dict(text=pat, xref="paper", yref="paper", x=fx(px_), y=fy(143),
                            xanchor="left", yanchor="middle", showarrow=False,
                            font=dict(family=FONT, size=38, color="#111111")))
    annotations.append(dict(text=cap, xref="paper", yref="paper", x=fx(capx), y=fy(1214),
                            xanchor="center", yanchor="middle", showarrow=False,
                            font=dict(family=SERIF, size=84, color="#000000")))

fig.update_layout(shapes=shapes, annotations=annotations)
fig.write_html("out.html", config={"displayModeBar": False},
               post_script="document.body.style.margin='0';")
